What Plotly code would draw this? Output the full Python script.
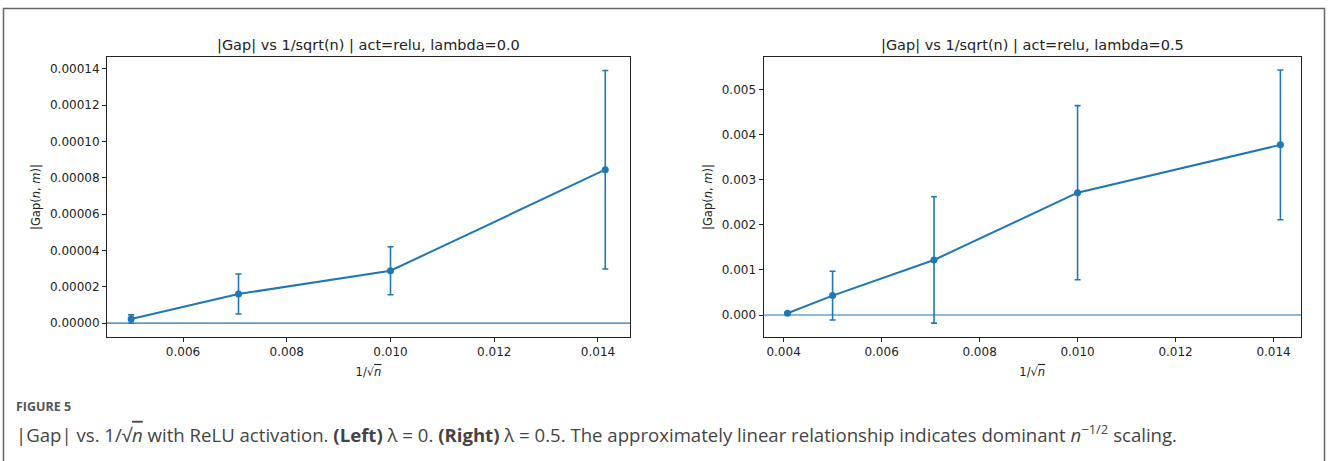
import plotly.graph_objects as go

# ---- data ----
x_left = [0.005, 0.00707, 0.01, 0.01414]
gap_left = [2.2e-6, 1.6e-5, 2.88e-5, 8.45e-5]
err_left = [2.3e-6, 1.1e-5, 1.32e-5, 5.47e-5]

x_right = [0.00408, 0.005, 0.00707, 0.01, 0.01414]
gap_right = [0.00004, 0.00043, 0.00122, 0.00271, 0.00377]
err_right = [0.00002, 0.00054, 0.0014, 0.00193, 0.00166]

title_left = "|Gap| vs 1/sqrt(n) | act=relu, lambda=0.0"
title_right = "|Gap| vs 1/sqrt(n) | act=relu, lambda=0.5"

W, H = 1328, 461
C0 = "#1f77b4"
FONT = "DejaVu Sans"


def px(x):
    return x / W


def py(y):
    return 1 - y / H


fig = go.Figure()

fig.add_trace(go.Scatter(
    x=x_left, y=gap_left, mode="lines+markers",
    line=dict(color=C0, width=2), marker=dict(color=C0, size=7),
    error_y=dict(type="data", array=err_left, visible=True, color=C0, thickness=1.6, width=3),
    xaxis="x", yaxis="y", showlegend=False))

fig.add_trace(go.Scatter(
    x=x_right, y=gap_right, mode="lines+markers",
    line=dict(color=C0, width=2), marker=dict(color=C0, size=7),
    error_y=dict(type="data", array=err_right, visible=True, color=C0, thickness=1.6, width=3),
    xaxis="x2", yaxis="y2", showlegend=False))

axis_common = dict(
    showgrid=False, zeroline=False, showline=True, linecolor="#222", linewidth=1,
    mirror=True, ticks="outside", ticklen=4, tickcolor="#222", tickwidth=1,
    tickfont=dict(family=FONT, size=12, color="#222"),
)

xtitle = "1/√<span style='text-decoration:overline'><i>n</i></span>"
ytitle = "|Gap(<i>n</i>, <i>m</i>)|"

fig.update_layout(
    width=W, height=H, margin=dict(l=0, r=0, t=0, b=0),
    paper_bgcolor="white", plot_bgcolor="white",
    font=dict(family=FONT, color="#222"),
    xaxis=dict(domain=[px(107), px(630)], range=[0.004535, 0.014617], dtick=0.002,
               tick0=0.0, tickformat=".3f", anchor="y",
               title=dict(text=xtitle, font=dict(size=11.5), standoff=9), **axis_common),
    yaxis=dict(domain=[py(337), py(57)], range=[-0.0000077, 0.0001466], dtick=0.00002,
               tick0=0.0, tickformat=".5f", anchor="x",
               title=dict(text=ytitle, font=dict(size=11.5), standoff=6), **axis_common),
    xaxis2=dict(domain=[px(763.5), px(1301)], range=[0.00359, 0.01456], dtick=0.002,
                tick0=0.0, tickformat=".3f", anchor="y2",
                title=dict(text=xtitle, font=dict(size=11.5), standoff=9), **axis_common),
    yaxis2=dict(domain=[py(337), py(57)], range=[-0.000487, 0.005717], dtick=0.001,
                tick0=0.0, tickformat=".3f", anchor="x2",
                title=dict(text=ytitle, font=dict(size=11.5), standoff=6), **axis_common),
)

# horizontal zero lines
fig.add_shape(type="line", xref="x domain", yref="y", x0=0, x1=1, y0=0, y1=0,
              line=dict(color=C0, width=1.2))
fig.add_shape(type="line", xref="x2 domain", yref="y2", x0=0, x1=1, y0=0, y1=0,
              line=dict(color=C0, width=1.2))

# outer frame
fig.add_shape(type="rect", xref="paper", yref="paper",
              x0=px(3.5), x1=px(1324.5), y0=-0.2, y1=py(8.5),
              line=dict(color="#666", width=1.5), layer="above")

# subplot titles
fig.add_annotation(text=title_left, x=px(368.5), y=py(45), xref="paper", yref="paper",
                   showarrow=False, font=dict(family=FONT, size=14.5, color="#222"),
                   xanchor="center", yanchor="middle")
fig.add_annotation(text=title_right, x=px(1032), y=py(45), xref="paper", yref="paper",
                   showarrow=False, font=dict(family=FONT, size=14.5, color="#222"),
                   xanchor="center", yanchor="middle")

# caption
fig.add_annotation(text="<b>FIGURE 5</b>", x=px(14), y=py(406), xref="paper", yref="paper",
                   showarrow=False, font=dict(family="Open Sans", size=12.5, color="#555"),
                   xanchor="left", yanchor="middle")
caption = ("|Gap| vs. 1/√<span style='text-decoration:overline'><i>n</i></span> with ReLU activation. "
           "<b>(Left)</b> λ = 0. <b>(Right)</b> λ = 0.5. The approximately linear relationship "
           "indicates dominant <i>n</i><sup>−1/2</sup> scaling.")
fig.add_annotation(text=caption, x=px(14), y=py(433), xref="paper", yref="paper",
                   showarrow=False, font=dict(family="Open Sans", size=18.6, color="#444"),
                   xanchor="left", yanchor="middle")

fig.write_html("out.html")
